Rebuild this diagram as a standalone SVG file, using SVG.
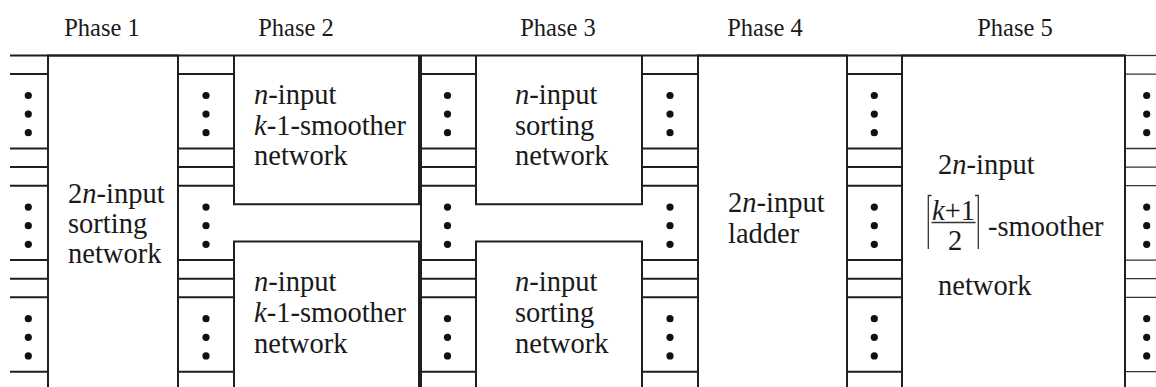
<svg xmlns="http://www.w3.org/2000/svg" width="1156" height="387" viewBox="0 0 1156 387">
<style>
.ln{stroke:#1f1f1f;stroke-width:2;fill:none}
.thin{stroke:#333;stroke-width:1.3;fill:none}
.dot{fill:#111}
text{font-family:"Liberation Serif","Times New Roman",Times,"DejaVu Serif",serif;fill:#1a1a1a}
.t{font-size:28.5px}
.h{font-size:24.5px;text-anchor:middle}
.i{font-style:italic}
</style>
<defs>
<g id="dots3"><circle class="dot" cx="0" cy="0" r="3.6"/><circle class="dot" cx="0" cy="18.6" r="3.6"/><circle class="dot" cx="0" cy="37.2" r="3.6"/></g>
</defs>
<rect width="1156" height="387" fill="#fff"/>
<g id="headers">
<text class="h" x="102" y="35.5">Phase 1</text>
<text class="h" x="296" y="35.5">Phase 2</text>
<text class="h" x="558" y="35.5">Phase 3</text>
<text class="h" x="765" y="35.5">Phase 4</text>
<text class="h" x="1015" y="35.5">Phase 5</text>
</g>
<g id="connectors">
<path class="ln" d="M10,55.5H1125"/>
<path class="thin" d="M1125,55.5H1156"/>
<path class="ln" d="M10,74.1H48M10,148.5H48M10,167.1H48M10,185.7H48M10,260.1H48M10,278.7H48M10,297.3H48M10,371.7H48"/>
<path class="ln" d="M178,74.1H234M178,148.5H234M178,167.1H234M178,185.7H234M178,260.1H234M178,278.7H234M178,297.3H234M178,371.7H234"/>
<path class="ln" d="M421,74.1H476M421,148.5H476M421,167.1H476M421,185.7H476M421,260.1H476M421,278.7H476M421,297.3H476M421,371.7H476"/>
<path class="ln" d="M421,55.5V387"/>
<path class="ln" d="M642,74.1H698M642,148.5H698M642,167.1H698M642,185.7H698M642,260.1H698M642,278.7H698M642,297.3H698M642,371.7H698"/>
<path class="ln" d="M847,74.1H902M847,148.5H902M847,167.1H902M847,185.7H902M847,260.1H902M847,278.7H902M847,297.3H902M847,371.7H902"/>
<path class="thin" d="M1125,74.1H1156M1125,148.5H1156M1125,167.1H1156M1125,185.7H1156M1125,260.1H1156M1125,278.7H1156M1125,297.3H1156M1125,371.7H1156"/>
<use href="#dots3" x="28.3" y="95.5"/><use href="#dots3" x="28.3" y="207.1"/><use href="#dots3" x="28.3" y="318.7"/>
<use href="#dots3" x="206" y="95.5"/><use href="#dots3" x="206" y="207.1"/><use href="#dots3" x="206" y="318.7"/>
<use href="#dots3" x="447.5" y="95.5"/><use href="#dots3" x="447.5" y="207.1"/><use href="#dots3" x="447.5" y="318.7"/>
<use href="#dots3" x="670" y="95.5"/><use href="#dots3" x="670" y="207.1"/><use href="#dots3" x="670" y="318.7"/>
<use href="#dots3" x="874.3" y="95.5"/><use href="#dots3" x="874.3" y="207.1"/><use href="#dots3" x="874.3" y="318.7"/>
<use href="#dots3" x="1146.7" y="95.5"/><use href="#dots3" x="1146.7" y="207.1"/><use href="#dots3" x="1146.7" y="318.7"/>
</g>
<g id="phase1">
<path class="ln" d="M48,387V55.5H178V387"/>
<text class="t" x="68" y="203.3">2<tspan class="i">n</tspan>-input</text>
<text class="t" x="68" y="233.3">sorting</text>
<text class="t" x="68" y="263.3">network</text>
</g>
<g id="phase2-upper">
<path class="ln" d="M234,55.5V204.3H419V55.5"/>
<text class="t" x="254" y="104"><tspan class="i">n</tspan>-input</text>
<text class="t" x="254" y="134.5"><tspan class="i">k</tspan>-1-smoother</text>
<text class="t" x="254" y="165">network</text>
</g>
<g id="phase2-lower">
<path class="ln" d="M234,387V241.5H419V387"/>
<text class="t" x="254" y="290.7"><tspan class="i">n</tspan>-input</text>
<text class="t" x="254" y="321.5"><tspan class="i">k</tspan>-1-smoother</text>
<text class="t" x="254" y="352.5">network</text>
</g>
<g id="phase3-upper">
<path class="ln" d="M476,55.5V204.3H642V55.5"/>
<text class="t" x="515" y="104"><tspan class="i">n</tspan>-input</text>
<text class="t" x="515" y="134.5">sorting</text>
<text class="t" x="515" y="165">network</text>
</g>
<g id="phase3-lower">
<path class="ln" d="M476,387V241.5H642V387"/>
<text class="t" x="515" y="290.7"><tspan class="i">n</tspan>-input</text>
<text class="t" x="515" y="321.5">sorting</text>
<text class="t" x="515" y="352.5">network</text>
</g>
<g id="phase4">
<path class="ln" d="M698,387V55.5H847V387"/>
<text class="t" x="728" y="211.7">2<tspan class="i">n</tspan>-input</text>
<text class="t" x="728" y="242.7">ladder</text>
</g>
<g id="phase5">
<path class="ln" d="M902,387V55.5H1125V387"/>
<text class="t" x="938" y="174">2<tspan class="i">n</tspan>-input</text>
<path class="thin" d="M931.5,195.5H928.3V249M975,195.5H978.3V249"/>
<text class="t" x="932" y="219.5"><tspan class="i">k</tspan>+1</text>
<path class="thin" d="M931.5,222.5H975.5"/>
<text class="t" x="955" y="250" text-anchor="middle">2</text>
<text class="t" x="988" y="236">-smoother</text>
<text class="t" x="938" y="295">network</text>
</g>
</svg>
